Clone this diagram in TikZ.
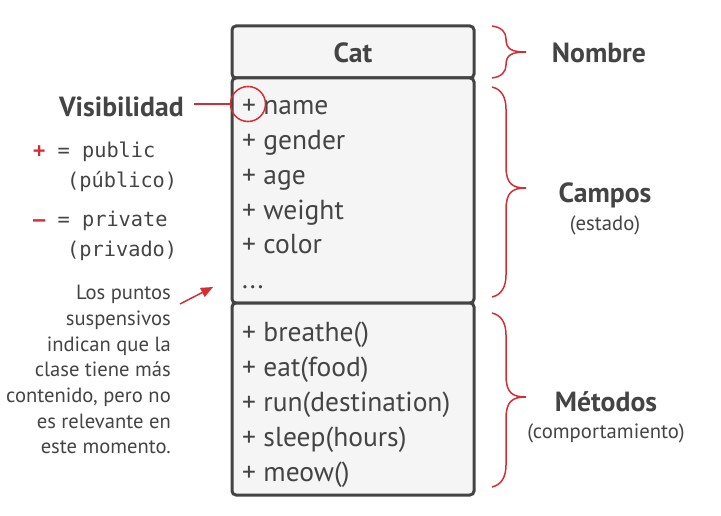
\documentclass[tikz,border=0pt]{standalone}
\usepackage{fontspec}
\setmainfont{PT Sans}
\setmonofont{DejaVu Sans Mono}
\usetikzlibrary{arrows.meta}
\definecolor{ink}{HTML}{444444}
\definecolor{accent}{HTML}{D42E35}
\definecolor{boxfill}{HTML}{F5F5F5}
\newcommand\curlybr[4]{%
  \draw[bracepath] (492,#1) .. controls (502,{#1+0.1*#4}) and (506,{#1+0.5*#4}) .. (506,{#1+#4})
    -- (506,{#2-#4}) .. controls (506,{#2-0.2*#4}) and (512,#2) .. (526,#2)
    .. controls (512,#2) and (506,{#2+0.2*#4}) .. (506,{#2+#4})
    -- (506,{#3-#4}) .. controls (506,{#3-0.5*#4}) and (502,{#3-0.1*#4}) .. (492,#3);}
\begin{document}
\begin{tikzpicture}[x=1pt,y=-1pt,
  compart/.style={draw=ink,line width=3pt,fill=boxfill,rounded corners=4pt},
  item/.style={anchor=base west,inner sep=0pt,text=ink,font=\fontsize{27.5}{32}\selectfont},
  title/.style={anchor=base,inner sep=0pt,text=ink,font=\bfseries\fontsize{27.7}{32}\selectfont},
  sub/.style={anchor=base,inner sep=0pt,text=ink,font=\fontsize{20.7}{24}\selectfont},
  mono/.style={anchor=base west,inner sep=0pt,text=ink,font=\ttfamily\fontsize{20.3}{24}\selectfont},
  note/.style={anchor=north east,inner sep=0pt,text=ink,align=right,font=\fontsize{20.6}{25.7}\selectfont},
  bracepath/.style={draw=accent,line width=1.5pt},
  redline/.style={draw=accent,line width=1.5pt},
]
\useasboundingbox (0,0) rectangle (721,516);
% class box
\draw[compart] (232,26) rectangle (474,78);
\draw[compart] (232,78) rectangle (474,303);
\draw[compart] (232,303) rectangle (474,495);
\node[title] (cat) at (353,63) {Cat};
\node[item] (f1) at (242,115) {+ name};
\node[item] (f2) at (242,150) {+ gender};
\node[item] (f3) at (242,185) {+ age};
\node[item] (f4) at (242,220) {+ weight};
\node[item] (f5) at (242,254) {+ color};
\node[item] (f6) at (242,288) {...};
\node[item] (m1) at (242,341) {+ breathe()};
\node[item] (m2) at (242,376) {+ eat(food)};
\node[item] (m3) at (242,411) {+ run(destination)};
\node[item] (m4) at (242,446) {+ sleep(hours)};
\node[item] (m5) at (242,481) {+ meow()};
% braces and labels
\curlybr{26}{52}{78}{13}
\curlybr{87}{188}{297}{22}
\curlybr{313}{397}{487}{22}
\node[title] (nombre) at (599,63) {Nombre};
\node[title] (campos) at (605,203) {Campos};
\node[sub] (estado) at (605,230) {(estado)};
\node[title] (metodos) at (606,411) {Métodos};
\node[sub] (comport) at (606,438) {(comportamiento)};
% visibility
\node[title,anchor=base east] (vislbl) at (184,117) {Visibilidad};
\node[draw=accent,line width=1.5pt,circle,minimum size=35pt,inner sep=0pt] (viscirc) at (248,104) {};
\coordinate (visstart) at (194,104);
\draw[redline] (visstart) -- (viscirc.west);
\node[mono] (pub) at (33,158) {\textcolor{accent}{\bfseries +} = public};
\node[mono] (pubes) at (67,188) {(público)};
\node[mono] (priv) at (33,226) {\textcolor{accent}{\bfseries –} = private};
\node[mono] (prives) at (67,256) {(privado)};
% note
\node[note] (nota) at (171,285) {Los puntos\\suspensivos\\indican que la\\clase tiene más\\contenido, pero no\\es relevante en\\este momento.};
\coordinate (ntail) at (180,304);
\coordinate (nhead) at (213,287);
\draw[redline,-{Triangle[length=12pt,width=10pt]}] (ntail) -- (nhead);
\end{tikzpicture}
\end{document}
